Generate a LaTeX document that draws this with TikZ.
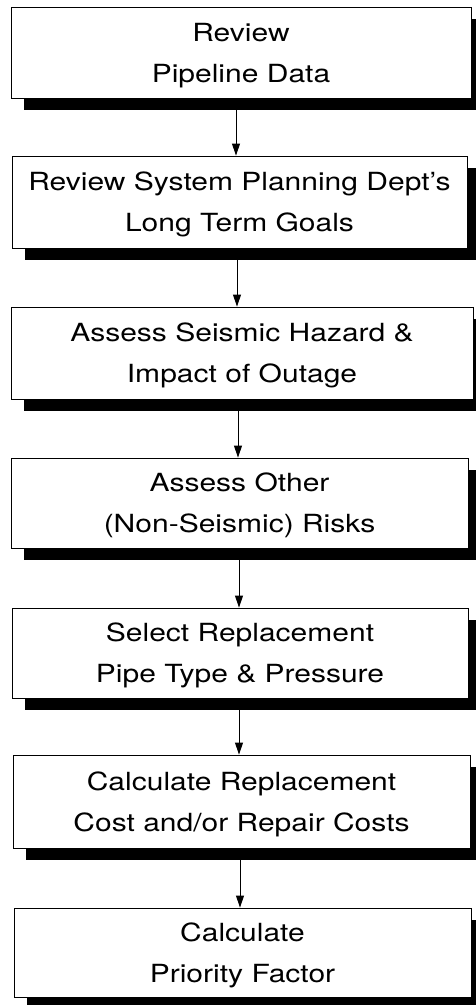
\documentclass[tikz,border=0pt]{standalone}
\usepackage{fontspec}
\setmainfont[FakeStretch=1.2]{TeX Gyre Heros}
\usetikzlibrary{shadows,arrows.meta}
\begin{document}
\begin{tikzpicture}[x=1pt,y=-1pt,
  stepbox/.style={draw=black, line width=0.9pt, fill=white, rectangle, inner sep=0pt,
    align=center, font=\fontsize{25}{41}\selectfont, text depth=0pt,
    drop shadow={shadow xshift=13pt, shadow yshift=-12pt, fill=black, opacity=1}},
  arr/.style={draw=black, line width=0.9pt, -{Triangle[length=12pt,width=8pt]}}]
\useasboundingbox (0,0) rectangle (475,1005);
\node[stepbox, minimum width=460pt, minimum height=91pt] (b1) at (241,52.5) {Review\\Pipeline Data};
\node[stepbox, minimum width=455pt, minimum height=92pt] (b2) at (239.5,202) {Review System Planning Dept's\\Long Term Goals};
\node[stepbox, minimum width=462pt, minimum height=92pt] (b3) at (242,353) {Assess Seismic Hazard \&\\Impact of Outage};
\node[stepbox, minimum width=457pt, minimum height=90pt] (b4) at (239.5,503) {Assess Other\\(Non-Seismic) Risks};
\node[stepbox, minimum width=456pt, minimum height=90pt] (b5) at (240,653) {Select Replacement\\Pipe Type \& Pressure};
\node[stepbox, minimum width=457pt, minimum height=93pt] (b6) at (241.5,801.5) {Calculate Replacement\\Cost and/or Repair Costs};
\node[stepbox, minimum width=457pt, minimum height=89pt] (b7) at (242.5,952.5) {Calculate\\Priority Factor};
\coordinate (a1) at (236,0);
\coordinate (a2) at (237,0);
\coordinate (a3) at (238,0);
\coordinate (a4) at (239,0);
\coordinate (a5) at (239,0);
\coordinate (a6) at (240,0);
\draw[arr] (b1.south -| a1) -- (b2.north -| a1);
\draw[arr] (b2.south -| a2) -- (b3.north -| a2);
\draw[arr] (b3.south -| a3) -- (b4.north -| a3);
\draw[arr] (b4.south -| a4) -- (b5.north -| a4);
\draw[arr] (b5.south -| a5) -- (b6.north -| a5);
\draw[arr] (b6.south -| a6) -- (b7.north -| a6);
\end{tikzpicture}
\end{document}
